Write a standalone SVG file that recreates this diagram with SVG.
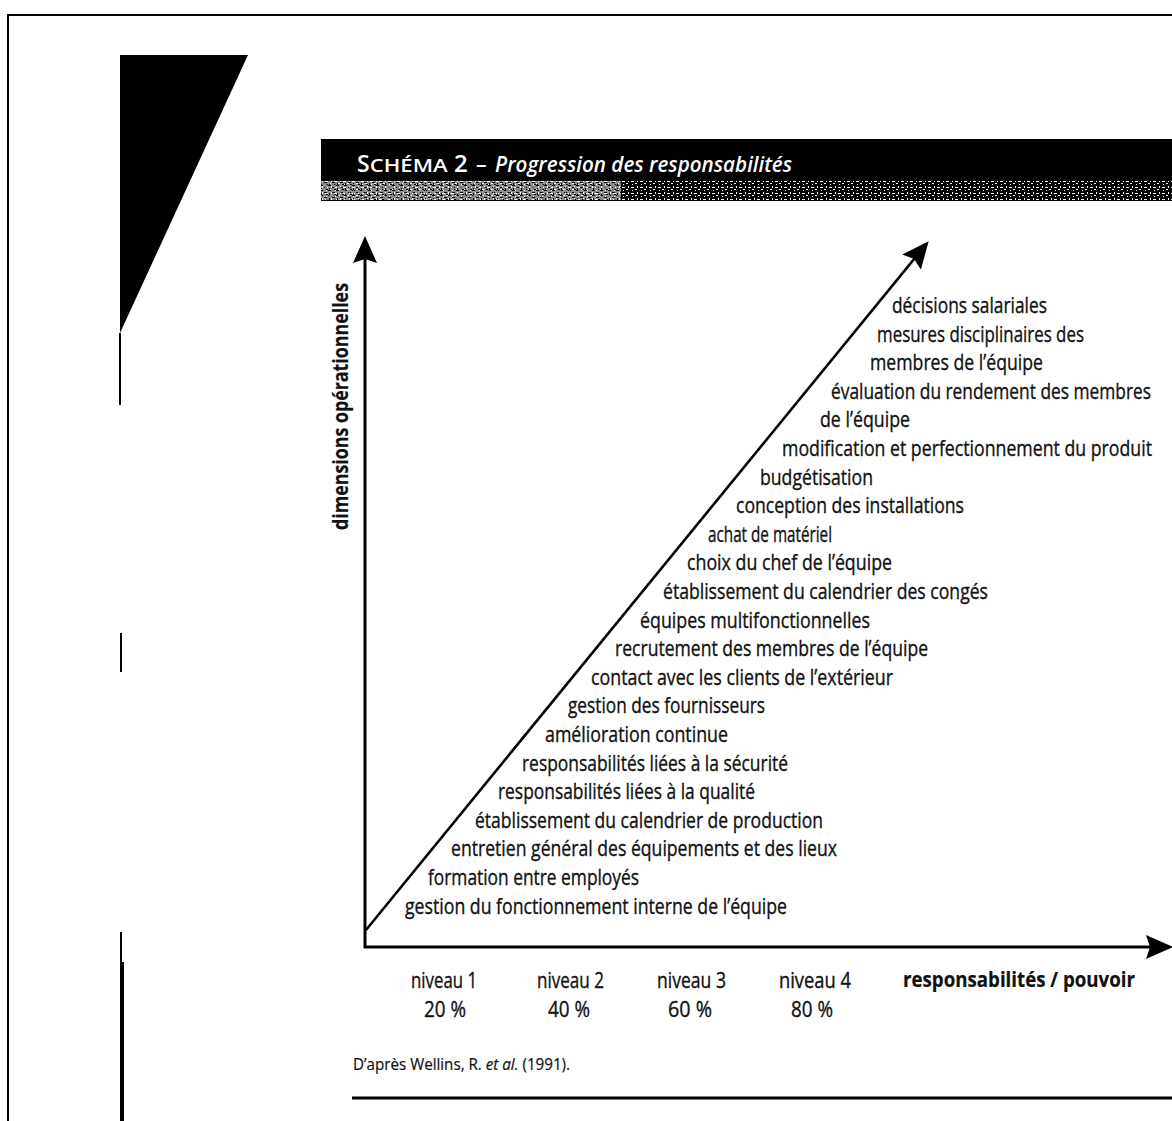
<svg xmlns="http://www.w3.org/2000/svg" width="1172" height="1121" viewBox="0 0 1172 1121">
  <style>
    .lbl { font-family: "Open Sans", "Noto Sans", "DejaVu Sans", sans-serif; font-size: 22px; font-weight: 500; fill: #111; stroke: #111; stroke-width: 0.35px; }
    .bold { font-weight: 700; stroke-width: 0.2px; }
    .title { font-family: "Open Sans", "Noto Sans", sans-serif; fill: #fff; font-weight: 600; }
    .axis { stroke: #000; stroke-width: 3; fill: none; }
    .diag { stroke: #000; stroke-width: 2.6; fill: none; }
    .rule { stroke: #000; fill: none; }
  </style>
  <defs>
    <marker id="head" markerUnits="userSpaceOnUse" viewBox="0 0 27 24" markerWidth="27" markerHeight="24" refX="16" refY="12" orient="auto">
      <path d="M0,0 L27,12 L0,24 L4,12 z" fill="#000"/>
    </marker>
    <pattern id="speckDark" width="9" height="6" patternUnits="userSpaceOnUse">
      <rect width="9" height="6" fill="#000"/>
      <rect x="1" y="1" width="3" height="1" fill="#fff"/>
      <rect x="5" y="3" width="2" height="1" fill="#fff"/>
      <rect x="2" y="4" width="1" height="1" fill="#fff"/>
      <rect x="7" y="0" width="1" height="2" fill="#fff"/>
    </pattern>
    <pattern id="speckLight" width="8" height="5" patternUnits="userSpaceOnUse">
      <rect width="8" height="5" fill="#fff"/>
      <rect x="0" y="0" width="3" height="1" fill="#000"/>
      <rect x="4" y="2" width="3" height="1" fill="#000"/>
      <rect x="1" y="3" width="1" height="2" fill="#000"/>
      <rect x="6" y="4" width="2" height="1" fill="#000"/>
    </pattern>
  </defs>

  <rect width="1172" height="1121" fill="#fff"/>

  <!-- page frame and scan edges -->
  <g id="frame">
    <path class="rule" stroke-width="2" d="M8,1121 V15 H1172"/>
    <polygon points="120,55 248,55 120,333" fill="#000"/>
    <path class="rule" stroke-width="2" d="M120,333 V405"/>
    <path class="rule" stroke-width="2" d="M121,633 V672"/>
    <path class="rule" stroke-width="2" d="M121,932 V962"/>
    <path class="rule" stroke-width="4" d="M122,962 V1121"/>
  </g>

  <!-- title bar -->
  <g id="title-bar">
    <rect x="321" y="139" width="851" height="62" fill="#000"/>
    <rect x="321" y="181" width="851" height="19" fill="url(#speckDark)"/>
    <rect x="321" y="181" width="300" height="19" fill="url(#speckLight)" opacity="0.55"/>
    <text class="title" y="172">
      <tspan x="357" font-size="23">S</tspan><tspan font-size="18" textLength="78" lengthAdjust="spacingAndGlyphs">CHÉMA</tspan>
      <tspan x="454" font-size="24">2</tspan>
      <tspan x="476" font-size="21">–</tspan>
      <tspan x="495" font-size="21" font-style="italic" textLength="297" lengthAdjust="spacingAndGlyphs">Progression des responsabilités</tspan>
    </text>
  </g>

  <!-- connectors: axes and diagonal progression arrow -->
  <g id="connectors">
    <line id="y-axis" class="axis" x1="365" y1="948" x2="365" y2="247" marker-end="url(#head)"/>
    <line id="x-axis" class="axis" x1="364" y1="947" x2="1162" y2="947" marker-end="url(#head)"/>
    <line id="progression" class="diag" x1="366" y1="930" x2="921.7" y2="249.7" marker-end="url(#head)"/>
  </g>

  <!-- axis titles -->
  <g id="y-axis-title">
    <text class="lbl bold" transform="translate(348,530) rotate(-90)" textLength="247" lengthAdjust="spacingAndGlyphs">dimensions opérationnelles</text>
  </g>
  <g id="x-axis-title">
    <text class="lbl bold" x="903" y="987" textLength="232" lengthAdjust="spacingAndGlyphs">responsabilités / pouvoir</text>
  </g>

  <!-- responsibilities along the diagonal -->
  <g id="items">
    <g id="item-22"><text class="lbl" x="892" y="313" textLength="155" lengthAdjust="spacingAndGlyphs">décisions salariales</text></g>
    <g id="item-21">
      <text class="lbl" x="877" y="342" textLength="207" lengthAdjust="spacingAndGlyphs">mesures disciplinaires des</text>
      <text class="lbl" x="870" y="370" textLength="173" lengthAdjust="spacingAndGlyphs">membres de l’équipe</text>
    </g>
    <g id="item-20">
      <text class="lbl" x="831" y="399" textLength="320" lengthAdjust="spacingAndGlyphs">évaluation du rendement des membres</text>
      <text class="lbl" x="820" y="427" textLength="90" lengthAdjust="spacingAndGlyphs">de l’équipe</text>
    </g>
    <g id="item-19"><text class="lbl" x="782" y="456" textLength="370" lengthAdjust="spacingAndGlyphs">modification et perfectionnement du produit</text></g>
    <g id="item-18"><text class="lbl" x="760" y="485" textLength="113" lengthAdjust="spacingAndGlyphs">budgétisation</text></g>
    <g id="item-17"><text class="lbl" x="736" y="513" textLength="228" lengthAdjust="spacingAndGlyphs">conception des installations</text></g>
    <g id="item-16"><text class="lbl" x="708" y="542" textLength="124" lengthAdjust="spacingAndGlyphs">achat de matériel</text></g>
    <g id="item-15"><text class="lbl" x="687" y="570" textLength="205" lengthAdjust="spacingAndGlyphs">choix du chef de l’équipe</text></g>
    <g id="item-14"><text class="lbl" x="663" y="599" textLength="325" lengthAdjust="spacingAndGlyphs">établissement du calendrier des congés</text></g>
    <g id="item-13"><text class="lbl" x="640" y="628" textLength="230" lengthAdjust="spacingAndGlyphs">équipes multifonctionnelles</text></g>
    <g id="item-12"><text class="lbl" x="615" y="656" textLength="313" lengthAdjust="spacingAndGlyphs">recrutement des membres de l’équipe</text></g>
    <g id="item-11"><text class="lbl" x="591" y="685" textLength="302" lengthAdjust="spacingAndGlyphs">contact avec les clients de l’extérieur</text></g>
    <g id="item-10"><text class="lbl" x="568" y="713" textLength="197" lengthAdjust="spacingAndGlyphs">gestion des fournisseurs</text></g>
    <g id="item-9"><text class="lbl" x="545" y="742" textLength="183" lengthAdjust="spacingAndGlyphs">amélioration continue</text></g>
    <g id="item-8"><text class="lbl" x="522" y="771" textLength="266" lengthAdjust="spacingAndGlyphs">responsabilités liées à la sécurité</text></g>
    <g id="item-7"><text class="lbl" x="498" y="799" textLength="257" lengthAdjust="spacingAndGlyphs">responsabilités liées à la qualité</text></g>
    <g id="item-6"><text class="lbl" x="475" y="828" textLength="348" lengthAdjust="spacingAndGlyphs">établissement du calendrier de production</text></g>
    <g id="item-5"><text class="lbl" x="451" y="856" textLength="386" lengthAdjust="spacingAndGlyphs">entretien général des équipements et des lieux</text></g>
    <g id="item-4"><text class="lbl" x="428" y="885" textLength="211" lengthAdjust="spacingAndGlyphs">formation entre employés</text></g>
    <g id="item-3"><text class="lbl" x="405" y="914" textLength="382" lengthAdjust="spacingAndGlyphs">gestion du fonctionnement interne de l’équipe</text></g>
  </g>

  <!-- levels -->
  <g id="level-1">
    <text class="lbl" x="411" y="988" textLength="66" lengthAdjust="spacingAndGlyphs">niveau 1</text>
    <text class="lbl" x="424" y="1017" textLength="42" lengthAdjust="spacingAndGlyphs">20 %</text>
  </g>
  <g id="level-2">
    <text class="lbl" x="537" y="988" textLength="67" lengthAdjust="spacingAndGlyphs">niveau 2</text>
    <text class="lbl" x="548" y="1017" textLength="42" lengthAdjust="spacingAndGlyphs">40 %</text>
  </g>
  <g id="level-3">
    <text class="lbl" x="657" y="988" textLength="69" lengthAdjust="spacingAndGlyphs">niveau 3</text>
    <text class="lbl" x="668" y="1017" textLength="44" lengthAdjust="spacingAndGlyphs">60 %</text>
  </g>
  <g id="level-4">
    <text class="lbl" x="779" y="988" textLength="72" lengthAdjust="spacingAndGlyphs">niveau 4</text>
    <text class="lbl" x="791" y="1017" textLength="42" lengthAdjust="spacingAndGlyphs">80 %</text>
  </g>

  <!-- source -->
  <g id="source">
    <text class="lbl" x="353" y="1070" textLength="217" lengthAdjust="spacingAndGlyphs" style="font-size:16px;stroke-width:0.2px">D’après Wellins, R. <tspan font-style="italic">et al.</tspan> (1991).</text>
    <path class="rule" stroke-width="3" d="M352,1098 H1172"/>
  </g>
</svg>
